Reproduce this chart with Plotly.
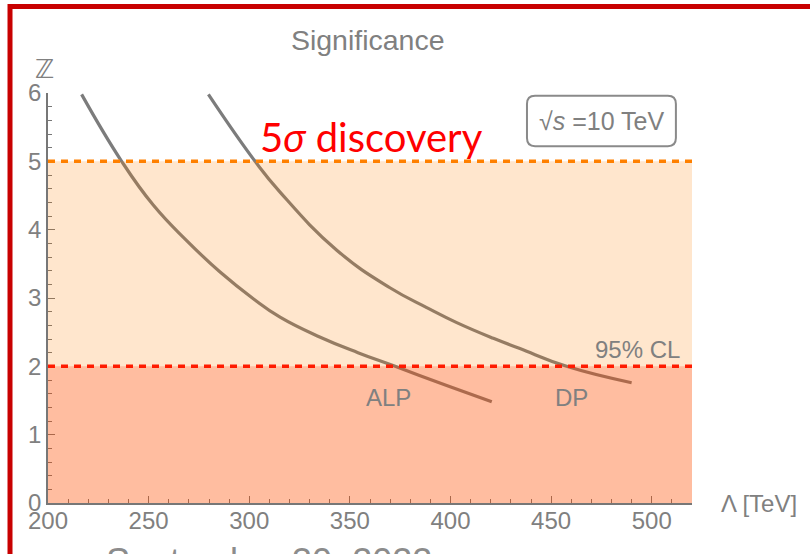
import plotly.graph_objects as go

# ---- data ----
alp_lambda = [216.7, 236.6, 252.3, 268.9, 285.5, 302.0, 315.3, 335.0, 354.0, 372.5, 398.1, 420.5]
alp_z      = [5.98,  5.00,  4.36,  3.84,  3.38,  2.99,  2.72,  2.43,  2.20,  2.00,  1.72,  1.48]

dp_lambda = [279.7, 302.9, 315.3, 343.5, 369.9, 388.2, 403.1, 421.3, 434.5, 457.7, 490.0]
dp_z      = [5.98,  5.00,  4.55,  3.70,  3.15,  2.86,  2.64,  2.41,  2.26,  2.00,  1.76]

z_discovery = 5.0
z_exclusion = 2.0
x_range = [200, 520]
y_range = [0, 6]
x_ticks = [200, 250, 300, 350, 400, 450, 500]
y_ticks = [0, 1, 2, 3, 4, 5, 6]

GRAY = "#808080"
CURVE = "#7c7c7c"
FONT = "Liberation Sans, Arial, sans-serif"

fig = go.Figure()
fig.add_trace(go.Scatter(x=alp_lambda, y=alp_z, mode="lines",
                         line=dict(color=CURVE, width=3.2, shape="spline", smoothing=1.3),
                         hoverinfo="skip", showlegend=False))
fig.add_trace(go.Scatter(x=dp_lambda, y=dp_z, mode="lines",
                         line=dict(color=CURVE, width=3.2, shape="spline", smoothing=1.3),
                         hoverinfo="skip", showlegend=False))

# translucent bands drawn above the curves
fig.add_shape(type="rect", xref="x domain", yref="y", x0=0, x1=1, y0=0, y1=z_discovery,
              fillcolor="rgba(255,127,0,0.196)", line_width=0, layer="above")
fig.add_shape(type="rect", xref="x domain", yref="y", x0=0, x1=1, y0=0, y1=z_exclusion,
              fillcolor="rgba(255,44,0,0.22)", line_width=0, layer="above")
fig.add_shape(type="line", xref="x domain", yref="y", x0=0, x1=1, y0=z_discovery, y1=z_discovery,
              line=dict(color="#FF8000", width=3.5, dash="7px,6px"), layer="above")
fig.add_shape(type="line", xref="x domain", yref="y", x0=0, x1=1, y0=z_exclusion, y1=z_exclusion,
              line=dict(color="#FF1A00", width=3.5, dash="7px,6px"), layer="above")

# rounded box for sqrt(s)
bx0, bx1, by0, by1 = 438.0, 512.0, 5.22, 5.96
rx, ry = 4.0, 0.12
box_path = (f"M {bx0+rx},{by1} L {bx1-rx},{by1} Q {bx1},{by1} {bx1},{by1-ry} "
            f"L {bx1},{by0+ry} Q {bx1},{by0} {bx1-rx},{by0} L {bx0+rx},{by0} "
            f"Q {bx0},{by0} {bx0},{by0+ry} L {bx0},{by1-ry} Q {bx0},{by1} {bx0+rx},{by1} Z")
fig.add_shape(type="path", xref="x", yref="y", path=box_path,
              line=dict(color="#8a8a8a", width=2), fillcolor="rgba(0,0,0,0)", layer="above")

# slide frame (red)
fig.add_shape(type="path", xref="paper", yref="paper",
              path="M -0.059,-0.2 L -0.059,1.211 L 1.3,1.211",
              line=dict(color="#C80000", width=5))

ann = [
    dict(x=475.0, y=5.59, xref="x", yref="y", text="√<i>s</i> =10 TeV",
         font=dict(size=25, color=GRAY, family=FONT), showarrow=False),
    dict(x=360.5, y=5.36, xref="x", yref="y", text="5<i>σ</i> discovery",
         font=dict(size=40, color="#FF0000", family="Lato, Carlito, sans-serif"), showarrow=False),
    dict(x=492.7, y=2.24, xref="x", yref="y", text="95% CL",
         font=dict(size=24, color=GRAY, family=FONT), showarrow=False),
    dict(x=369.4, y=1.54, xref="x", yref="y", text="ALP",
         font=dict(size=24, color=GRAY, family=FONT), showarrow=False),
    dict(x=459.9, y=1.54, xref="x", yref="y", text="DP",
         font=dict(size=24, color=GRAY, family=FONT), showarrow=False),
    dict(x=-0.005, y=1.058, xref="paper", yref="paper", text="ℤ",
         xanchor="center", yanchor="middle",
         font=dict(size=26, color=GRAY, family="DejaVu Sans"), showarrow=False),
    dict(x=1.104, y=0.0, xref="paper", yref="paper", text="Λ [TeV]",
         xanchor="center", yanchor="middle",
         font=dict(size=24, color=GRAY, family=FONT), showarrow=False),
    dict(x=0.087, y=-0.088, xref="paper", yref="paper", text="September 30, 2022",
         xanchor="left", yanchor="top",
         font=dict(size=36, color="#8c8c8c", family=FONT), showarrow=False),
]

fig.update_layout(
    width=810, height=554,
    margin=dict(l=48, r=118, t=93, b=51),
    paper_bgcolor="white", plot_bgcolor="white",
    title=dict(text="Significance", x=0.454, xanchor="center", y=0.928, yanchor="middle",
               font=dict(size=28.5, color=GRAY, family=FONT)),
    annotations=ann,
    showlegend=False,
)
fig.update_xaxes(range=x_range, tickvals=x_ticks, ticktext=[str(v) for v in x_ticks],
                 showgrid=False, zeroline=False, showline=True, linecolor="#777777", linewidth=1.5,
                 ticks="inside", ticklen=7, tickwidth=1.2, tickcolor="#777777",
                 minor=dict(dtick=10, ticks="inside", ticklen=4, tickcolor="#777777", tickwidth=1),
                 tickfont=dict(size=24, color=GRAY, family=FONT), ticklabelstandoff=-5)
fig.update_yaxes(range=y_range, tickvals=y_ticks, ticktext=[str(v) for v in y_ticks],
                 showgrid=False, zeroline=False, showline=True, linecolor="#777777", linewidth=1.5,
                 ticks="inside", ticklen=7, tickwidth=1.2, tickcolor="#777777",
                 minor=dict(dtick=0.2, ticks="inside", ticklen=4, tickcolor="#777777", tickwidth=1),
                 tickfont=dict(size=24, color=GRAY, family=FONT), ticklabelstandoff=0)

fig.write_html("out.html")
